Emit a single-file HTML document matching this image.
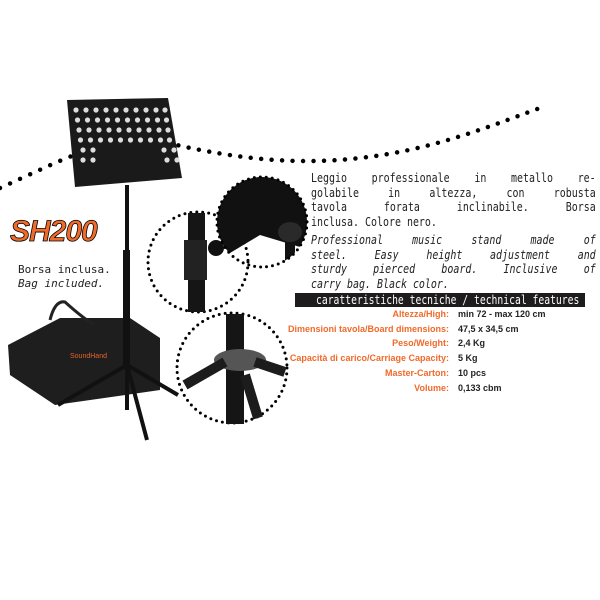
<!DOCTYPE html>
<html><head><style>
body{margin:0;width:600px;height:600px;background:#fff;position:relative;overflow:hidden;font-family:"DejaVu Sans Mono","Liberation Mono",monospace}
.p{position:absolute;left:311px;width:343px;font-size:12px;line-height:14.7px;color:#222;transform:scaleX(0.83);transform-origin:0 0}
.p div{text-align:justify;text-align-last:justify;white-space:nowrap;height:14.7px}
.p div.e{text-align-last:left}
.bar{position:absolute;left:295px;top:293px;width:290px;height:14px;background:#1e1c1c}
.bar span{position:absolute;left:21px;top:0;color:#fff;font-size:12px;line-height:14px;white-space:nowrap;transform:scaleX(0.81);transform-origin:0 0}
.row{position:absolute;left:280px;width:320px;font-family:"Liberation Sans",sans-serif;font-weight:bold;font-size:9px;height:14px}
.row .l{position:absolute;right:151px;color:#f06a2a;white-space:nowrap}
.row .v{position:absolute;left:178px;color:#222;white-space:nowrap}
</style></head><body>
<svg width="600" height="600" style="position:absolute;left:0;top:0">
<defs><clipPath id="c2"><circle cx="262" cy="222" r="45"/></clipPath></defs>
<path d="M0 188 C40 170 60 160 80 153" fill="none" stroke="#000" stroke-width="4.5" stroke-dasharray="0 11" stroke-linecap="round"/>
<path d="M168 143 C240 160 300 165 360 158 C430 150 480 130 540 108" fill="none" stroke="#000" stroke-width="4.5" stroke-dasharray="0 10.5" stroke-linecap="round"/>
<polygon points="67,100 168,98 182,178 75,187" fill="#1a1a1a"/>
<g fill="#ddd">
<g id="r"><circle cx="76" cy="110" r="2.6"/><circle cx="86" cy="110" r="2.6"/><circle cx="96" cy="110" r="2.6"/><circle cx="106" cy="110" r="2.6"/><circle cx="116" cy="110" r="2.6"/><circle cx="126" cy="110" r="2.6"/><circle cx="136" cy="110" r="2.6"/><circle cx="146" cy="110" r="2.6"/><circle cx="156" cy="110" r="2.6"/><circle cx="165" cy="110" r="2.6"/></g>
<use href="#r" x="1.5" y="10"/><use href="#r" x="3" y="20"/><use href="#r" x="4.5" y="30"/>
<circle cx="83" cy="150" r="2.6"/><circle cx="93" cy="150" r="2.6"/><circle cx="83" cy="160" r="2.6"/><circle cx="93" cy="160" r="2.6"/>
<circle cx="164" cy="150" r="2.6"/><circle cx="174" cy="150" r="2.6"/><circle cx="167" cy="160" r="2.6"/><circle cx="177" cy="160" r="2.6"/>
</g>
<path d="M8 345 L60 318 L130 318 L160 338 L160 390 L55 405 L10 375 Z" fill="#1e1e1e"/>
<path d="M50 320 Q55 300 65 302 Q85 320 95 325" fill="none" stroke="#222" stroke-width="3"/>
<text x="70" y="358" font-size="7" fill="#e8642a" font-family="Liberation Sans">SoundHand</text>
<rect x="125" y="185" width="4" height="180" fill="#111"/>
<rect x="123" y="250" width="7" height="115" fill="#111"/>
<path d="M127 365 L58 405 M127 365 L147 440 M127 365 L178 395 M127 365 L127 410" stroke="#111" stroke-width="4"/>
<circle cx="198" cy="262" r="50" fill="#fff" stroke="#000" stroke-width="3" stroke-dasharray="0 6" stroke-linecap="round"/>
<rect x="188" y="213" width="17" height="99" fill="#151515"/>
<rect x="184" y="240" width="23" height="40" fill="#222"/>
<circle cx="216" cy="248" r="8" fill="#111"/>
<g clip-path="url(#c2)"><path d="M210 170 L310 170 L310 250 L260 235 L210 265Z" fill="#111"/>
<rect x="285" y="225" width="10" height="50" fill="#111"/>
<ellipse cx="290" cy="232" rx="12" ry="10" fill="#2a2a2a"/></g>
<circle cx="262" cy="222" r="45" fill="none" stroke="#000" stroke-width="3" stroke-dasharray="0 6" stroke-linecap="round"/>
<circle cx="232" cy="368" r="55" fill="#fff" stroke="#000" stroke-width="3" stroke-dasharray="0 6" stroke-linecap="round"/>
<rect x="226" y="314" width="18" height="110" fill="#151515"/>
<ellipse cx="240" cy="360" rx="26" ry="11" fill="#555"/>
<path d="M185 385 L225 362 M255 362 L285 372 M245 375 L258 418" stroke="#1c1c1c" stroke-width="10"/>
<text x="10" y="241" font-family="Liberation Sans" font-weight="bold" font-style="italic" font-size="30" fill="#f06a2a" stroke="#000" stroke-width="0.8" letter-spacing="-1">SH200</text>
</svg>
<div style="position:absolute;left:18px;top:263px;font-size:11px;line-height:14px;color:#222">Borsa inclusa.<br><i>Bag included.</i></div>
<div class="p" style="top:171px"><div>Leggio professionale in metallo re-</div><div>golabile in altezza, con robusta</div><div>tavola forata inclinabile. Borsa</div><div class="e">inclusa. Colore nero.</div></div>
<div class="p" style="top:233px;font-style:italic"><div>Professional music stand made of</div><div>steel. Easy height adjustment and</div><div>sturdy pierced board. Inclusive of</div><div class="e">carry bag. Black color.</div></div>
<div class="bar"><span>caratteristiche tecniche / technical features</span></div>
<div class="row" style="top:309px"><span class="l">Altezza/High:</span><span class="v">min 72 - max 120 cm</span></div>
<div class="row" style="top:324px"><span class="l">Dimensioni tavola/Board  dimensions:</span><span class="v">47,5 x 34,5 cm</span></div>
<div class="row" style="top:338px"><span class="l">Peso/Weight:</span><span class="v">2,4 Kg</span></div>
<div class="row" style="top:353px"><span class="l">Capacità di carico/Carriage Capacity:</span><span class="v">5 Kg</span></div>
<div class="row" style="top:368px"><span class="l">Master-Carton:</span><span class="v">10 pcs</span></div>
<div class="row" style="top:383px"><span class="l">Volume:</span><span class="v">0,133 cbm</span></div>
</body></html>
